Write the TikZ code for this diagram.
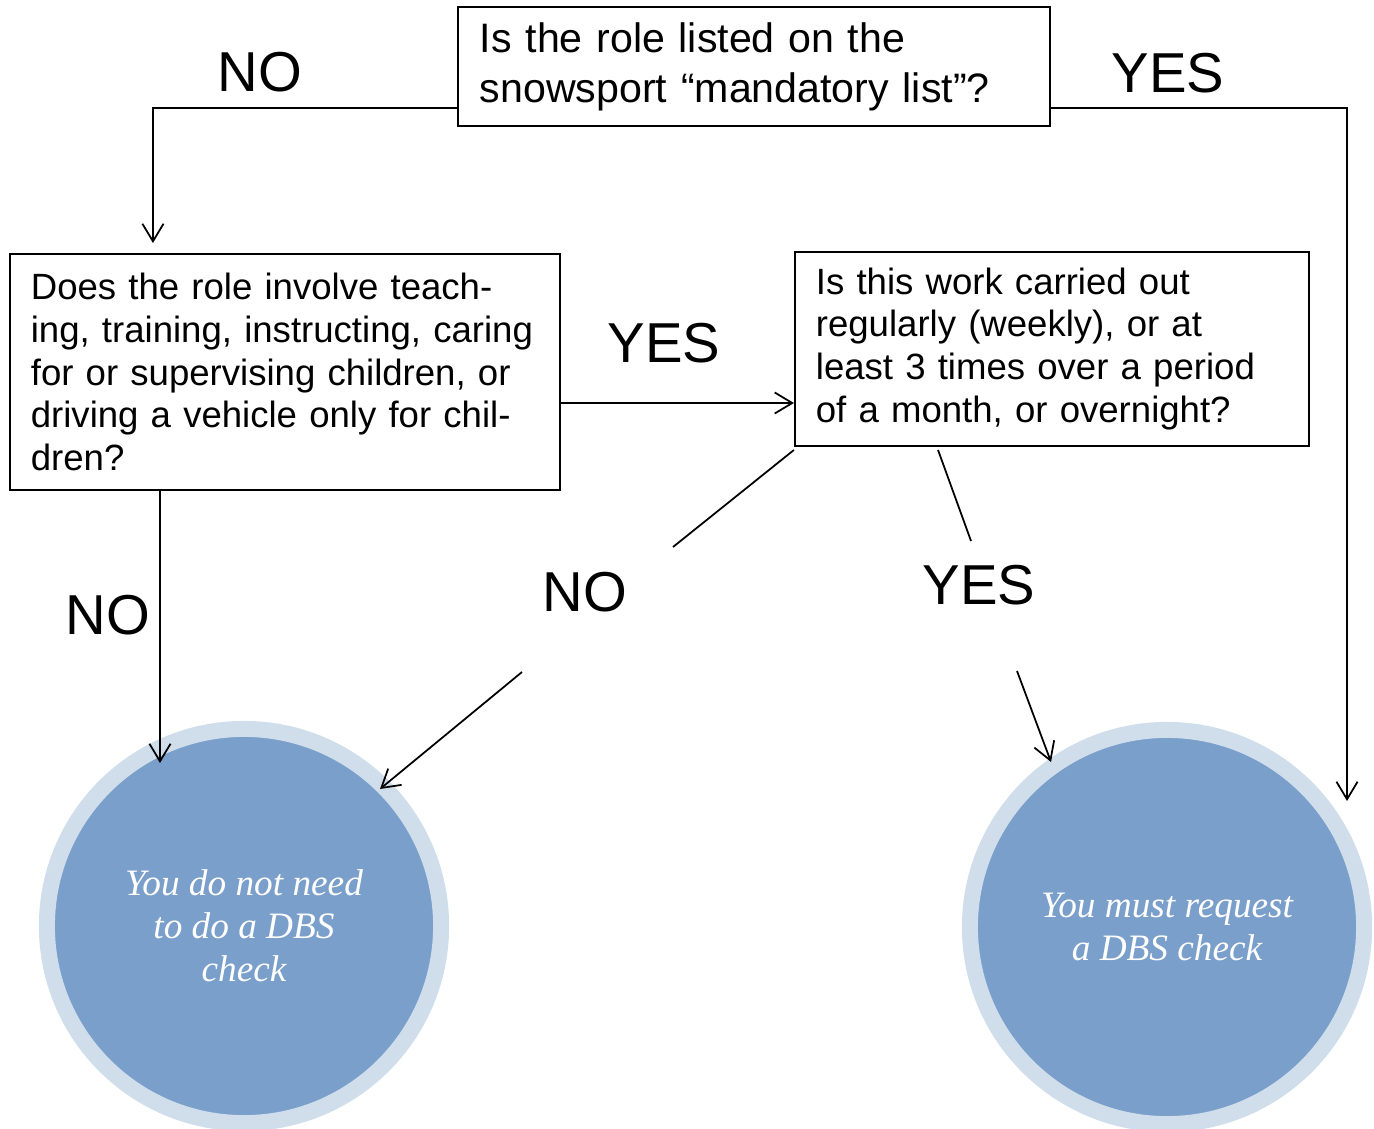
\documentclass[tikz,border=0pt]{standalone}
\usepackage{fontspec}
\setmainfont{Liberation Sans}
\newfontfamily\circfont{Liberation Serif}
\usetikzlibrary{arrows.meta}
\definecolor{ringblue}{RGB}{208,222,236}
\definecolor{fillblue}{RGB}{122,159,203}
\begin{document}
\begin{tikzpicture}[x=0.01cm,y=-0.01cm,
  qbox/.style={draw, line width=0.5pt, rectangle, inner sep=0pt, align=left,
    font=\fontsize{10.4}{12.2}\selectfont},
  lbl/.style={inner sep=0pt, font=\fontsize{16}{18}\selectfont},
  conn/.style={line width=0.5pt},
  arr/.style={conn, -{Straight Barb[length=5pt,width=6pt]}},
  endcirc/.style={circle, fill=fillblue, draw=ringblue, line width=0.16cm,
    minimum size=3.94cm, inner sep=0pt, text=white, align=center,
    font=\circfont\itshape\fontsize{10.6}{12.2}\selectfont}]
\useasboundingbox (0,0) rectangle (1374,1128);
\clip (0,0) rectangle (1374,1128);

% question boxes
\node[qbox, minimum width=5.92cm, minimum height=1.19cm, text width=5.48cm,
  font=\fontsize{11.7}{14.2}\selectfont] (q1) at (754,66.5)
  {\mbox{Is the role listed on the}\\\mbox{snowsport “mandatory list”?}};
\node[qbox, minimum width=5.50cm, minimum height=2.36cm, text width=5.08cm] (q2) at (285,372)
  {\mbox{Does the role involve teach-}\\\mbox{ing, training, instructing, caring}\\\mbox{for or supervising children, or}\\\mbox{driving a vehicle only for chil-}\\\mbox{dren?}};
\node[qbox, minimum width=5.14cm, minimum height=1.94cm, text width=4.72cm] (q3) at (1052,349)
  {\mbox{Is this work carried out}\\\mbox{regularly (weekly), or at}\\\mbox{least 3 times over a period}\\\mbox{of a month, or overnight?}\\[-0.1cm]};

% outcome circles
\node[endcirc] (c1) at (244,926) {You do not need\\to do a DBS\\check};
\node[endcirc] (c2) at (1167,927) {You must request\\a DBS check};

% labels
\node[lbl] (nTop) at (260,72) {NO};
\node[lbl] (yTop) at (1168,73) {YES};
\node[lbl] (yMid) at (664,343) {YES};
\node[lbl] (nLeft) at (108,615) {NO};
\node[lbl] (nMid) at (585,592) {NO};
\node[lbl] (yRight) at (979,585) {YES};

% connector end points
\coordinate (t1) at (160,763);
\coordinate (t4) at (1347,801);
\coordinate (a1) at (673,547);
\coordinate (a2) at (522,672);
\coordinate (t2) at (380,789);
\coordinate (b1) at (971,541);
\coordinate (b2) at (1017,671);
\coordinate (t3) at (1051,762);

% connectors
\draw[arr] ([shift={(0,-19)}]q1.south west) -| ([shift={(144,-10)}]q2.north west);
\draw[arr] ([shift={(0,-19)}]q1.south east) -| (t4);
\draw[arr] ([shift={(0,31)}]q2.east) coordinate (m1) -- (m1 -| q3.west);
\draw[arr] (q2.south -| t1) -- (t1);
\draw[conn] ([shift={(0,3)}]q3.south west) -- (a1);
\draw[arr] (a2) -- (t2);
\draw[conn] ([shift={(-114,3)}]q3.south) -- (b1);
\draw[arr] (b2) -- (t3);
\end{tikzpicture}
\end{document}
